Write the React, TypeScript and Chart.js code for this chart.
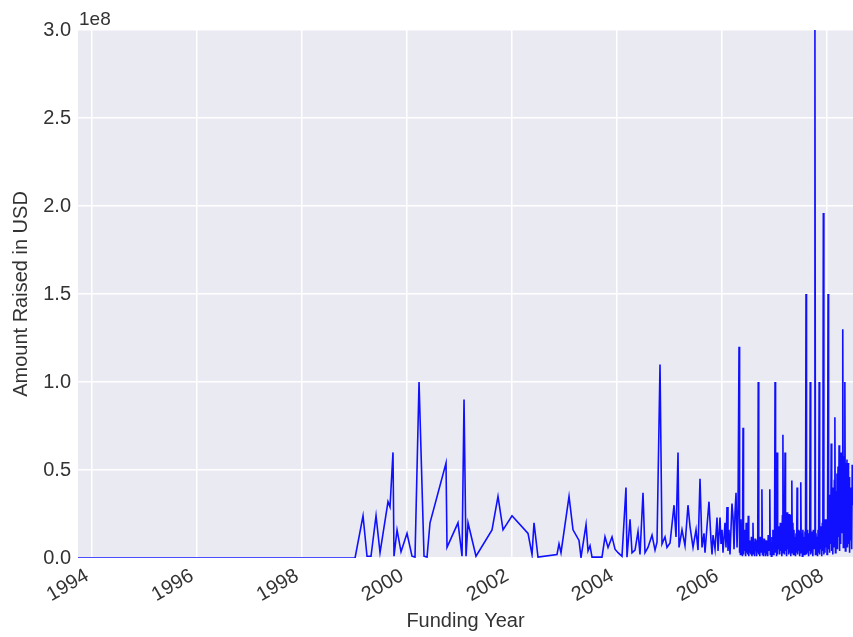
import React, { useEffect, useRef } from "react";
import { Chart, registerables } from "chart.js";

Chart.register(...registerables);

// ---- Axis settings / labels ----
const X_MIN_YEAR = 1993.733;
const X_MAX_YEAR = 2008.495;
const X_TICK_STEP = 2;
const Y_MAX_USD = 3e8;
const Y_TICK_STEP = 0.5e8;
const Y_OFFSET_LABEL = "1e8";
const X_TITLE = "Funding Year";
const Y_TITLE = "Amount Raised in USD";

// ---- Data: funding year (decimal) and amount raised (millions of USD) ----
const earlyYears = [1993.733, 1995.0, 1996.5, 1998.0, 1999.01];
const earlyAmounts = [0, 0, 0, 0, 0];

const boomYears = [
  1999.162, 1999.238, 1999.314, 1999.41, 1999.486, 1999.638, 1999.676, 1999.733, 1999.752, 1999.81,
  1999.886, 2000.0, 2000.095, 2000.152, 2000.229, 2000.324, 2000.381, 2000.438, 2000.743, 2000.762,
  2000.971, 2001.048, 2001.086, 2001.124, 2001.162, 2001.314, 2001.619, 2001.733, 2001.829, 2002.0,
  2002.305, 2002.381, 2002.419, 2002.495, 2002.857, 2002.895, 2002.933, 2003.086, 2003.162, 2003.276,
  2003.314, 2003.41, 2003.448, 2003.486, 2003.524,
];
const boomAmounts = [
  24, 1, 1, 24, 3, 32, 29, 60, 1, 16,
  3.5, 14, 1, 0.5, 100, 1, 0.5, 20, 54, 6,
  20, 1, 90, 1, 20, 1, 16, 35, 16, 24,
  14, 2, 20, 0.5, 2, 8, 3, 35, 16, 10,
  0.3, 19, 4, 7, 0.5,
];

const midYears = [
  2003.714, 2003.771, 2003.829, 2003.905, 2003.962, 2004.019, 2004.095, 2004.171, 2004.19, 2004.248,
  2004.286, 2004.343, 2004.4, 2004.438, 2004.495, 2004.533, 2004.59, 2004.667, 2004.724, 2004.762,
  2004.819, 2004.857, 2004.914, 2004.952, 2005.01, 2005.086, 2005.124, 2005.162, 2005.181, 2005.238,
  2005.295, 2005.352, 2005.39, 2005.448, 2005.505, 2005.543, 2005.581, 2005.619, 2005.657, 2005.676,
  2005.714, 2005.752, 2005.79, 2005.81, 2005.829, 2005.867, 2005.905, 2005.924, 2005.962, 2005.981,
  2006.0, 2006.019, 2006.057, 2006.076, 2006.095, 2006.114, 2006.133, 2006.152, 2006.19, 2006.21,
  2006.229, 2006.248, 2006.267, 2006.286, 2006.305, 2006.324,
];
const midAmounts = [
  0.5, 12, 6, 12, 5, 3, 1, 40, 0.5, 22,
  3, 4.5, 15, 2, 37, 3, 6, 13, 4.5, 9,
  110, 8, 12, 6, 8.5, 30, 12, 60, 6, 16,
  7, 30, 18, 6, 16, 4.5, 45, 6, 14, 3,
  18, 32, 10, 2, 13, 5, 23, 4, 23, 8,
  16, 3, 20, 6, 29, 4, 16, 2, 31, 23,
  5, 26, 37, 6, 28, 120,
];

const denseYears = [
  2006.33, 2006.34, 2006.35, 2006.36, 2006.37, 2006.38, 2006.39,
  2006.4, 2006.41, 2006.42, 2006.43, 2006.44, 2006.45, 2006.46, 2006.47, 2006.48, 2006.49,
  2006.5, 2006.51, 2006.52, 2006.53, 2006.54, 2006.55, 2006.56, 2006.57, 2006.58, 2006.59,
  2006.6, 2006.61, 2006.62, 2006.63, 2006.64, 2006.65, 2006.66, 2006.67, 2006.68, 2006.69,
  2006.7, 2006.71, 2006.72, 2006.73, 2006.74, 2006.75, 2006.76, 2006.77, 2006.78, 2006.79,
  2006.8, 2006.81, 2006.82, 2006.83, 2006.84, 2006.85, 2006.86, 2006.87, 2006.88, 2006.89,
  2006.9, 2006.91, 2006.92, 2006.93, 2006.94, 2006.95, 2006.96, 2006.97, 2006.98, 2006.99,
  2007.0, 2007.01, 2007.02, 2007.03, 2007.04, 2007.05, 2007.06, 2007.07, 2007.08, 2007.09,
  2007.1, 2007.11, 2007.12, 2007.13, 2007.14, 2007.15, 2007.16, 2007.17, 2007.18, 2007.19,
  2007.2, 2007.21, 2007.22, 2007.23, 2007.24, 2007.25, 2007.26, 2007.27, 2007.28, 2007.29,
  2007.3, 2007.31, 2007.32, 2007.33, 2007.34, 2007.35, 2007.36, 2007.37, 2007.38, 2007.39,
  2007.4, 2007.41, 2007.42, 2007.43, 2007.44, 2007.45, 2007.46, 2007.47, 2007.48, 2007.49,
  2007.5, 2007.51, 2007.52, 2007.53, 2007.54, 2007.55, 2007.56, 2007.57, 2007.58, 2007.59,
  2007.6, 2007.61, 2007.62, 2007.63, 2007.64, 2007.65, 2007.66, 2007.67, 2007.68, 2007.69,
  2007.7, 2007.71, 2007.72, 2007.73, 2007.74, 2007.75, 2007.76, 2007.77, 2007.78, 2007.79,
  2007.8, 2007.81, 2007.82, 2007.83, 2007.84, 2007.85, 2007.86, 2007.87, 2007.88, 2007.89,
  2007.9, 2007.91, 2007.92, 2007.93, 2007.94, 2007.95, 2007.96, 2007.97, 2007.98, 2007.99,
  2008.0, 2008.01, 2008.02, 2008.03, 2008.04, 2008.05, 2008.06, 2008.07, 2008.08, 2008.09,
  2008.1, 2008.11, 2008.12, 2008.13, 2008.14, 2008.15, 2008.16, 2008.17, 2008.18, 2008.19,
  2008.2, 2008.21, 2008.22, 2008.23, 2008.24, 2008.25, 2008.26, 2008.27, 2008.28, 2008.29,
  2008.3, 2008.31, 2008.32, 2008.33, 2008.34, 2008.35, 2008.36, 2008.37, 2008.38, 2008.39,
  2008.4, 2008.41, 2008.42, 2008.43, 2008.44, 2008.45, 2008.46, 2008.47, 2008.48, 2008.49,
];
const denseAmounts = [
  3, 18, 2, 22, 5, 14, 1,
  74, 2, 16, 4, 12, 1, 20, 3, 9, 2,
  24, 1, 10, 3, 8, 2, 12, 1, 6, 20,
  2, 9, 1, 11, 4, 7, 1, 10, 3, 100,
  2, 8, 1, 12, 3, 6, 39, 2, 9, 1,
  11, 3, 7, 1, 10, 2, 8, 1, 13, 4,
  6, 39, 2, 9, 1, 12, 3, 16, 2, 10,
  4, 100, 3, 14, 1, 60, 2, 18, 5, 12,
  2, 20, 4, 15, 1, 24, 70, 3, 18, 2,
  60, 4, 22, 1, 26, 5, 14, 2, 25, 3,
  18, 1, 24, 44, 3, 20, 2, 16, 5, 12,
  1, 14, 3, 40, 2, 16, 4, 10, 1, 15,
  43, 3, 14, 1, 16, 5, 12, 2, 15, 4,
  150, 2, 16, 3, 12, 1, 14, 4, 100, 2,
  15, 3, 12, 1, 16, 5, 10, 300, 2, 14,
  4, 12, 1, 16, 3, 100, 2, 18, 5, 14,
  1, 20, 4, 196, 2, 16, 3, 22, 6, 18,
  2, 24, 150, 5, 30, 3, 36, 8, 65, 4,
  40, 2, 34, 6, 44, 80, 3, 38, 10, 48,
  5, 52, 12, 64, 4, 56, 8, 60, 14, 50,
  130, 6, 58, 10, 100, 4, 54, 12, 56, 6,
  54, 8, 46, 3, 40, 10, 36, 5, 53, 30,
];

const FONT_FAMILY = '"Liberation Sans", Arial, Helvetica, sans-serif';
const TEXT_COLOR = "#333333";
const PLOT_BG = "#EAEAF2";
const LINE_COLOR = "#1010ff";

const allYears = [...earlyYears, ...boomYears, ...midYears, ...denseYears];
const allAmounts = [...earlyAmounts, ...boomAmounts, ...midAmounts, ...denseAmounts];

const decorPlugin = {
  id: "decor",
  beforeDraw(chart: any) {
    const { ctx, chartArea: a } = chart;
    ctx.save();
    ctx.fillStyle = PLOT_BG;
    ctx.fillRect(a.left, a.top, a.right - a.left, a.bottom - a.top);
    ctx.restore();
  },
  afterDraw(chart: any) {
    const { ctx, chartArea: a } = chart;
    ctx.save();
    ctx.font = `19px ${FONT_FAMILY}`;
    ctx.fillStyle = TEXT_COLOR;
    ctx.textAlign = "left";
    ctx.textBaseline = "alphabetic";
    ctx.fillText(Y_OFFSET_LABEL, a.left + 1, a.top - 5);
    ctx.restore();
  },
};

export default function App() {
  const ref = useRef<HTMLCanvasElement>(null);
  useEffect(() => {
    document.body.style.margin = "0";
    const points = allYears.map((x, i) => ({ x, y: allAmounts[i] * 1e6 }));
    const font = { family: FONT_FAMILY, size: 20 };
    const chart = new Chart(ref.current!, {
      type: "line",
      data: {
        datasets: [
          {
            data: points,
            borderColor: LINE_COLOR,
            borderWidth: 1.6,
            pointRadius: 0,
            tension: 0,
            fill: false,
          },
        ],
      },
      options: {
        animation: false,
        responsive: false,
        devicePixelRatio: 1,
        layout: { padding: { top: 30, left: 0, right: 0, bottom: 0 } },
        plugins: { legend: { display: false }, tooltip: { enabled: false } },
        scales: {
          x: {
            type: "linear",
            min: X_MIN_YEAR,
            max: X_MAX_YEAR,
            afterFit: (s: any) => {
              s.height = 79;
            },
            grid: { color: "#ffffff", lineWidth: 1.5, drawTicks: false },
            border: { display: false },
            ticks: {
              stepSize: X_TICK_STEP,
              includeBounds: false,
              autoSkip: false,
              minRotation: 30,
              maxRotation: 30,
              padding: 6,
              labelOffset: -5,
              color: TEXT_COLOR,
              font,
              callback: (v: any) => String(Math.round(Number(v))),
            },
            title: {
              display: true,
              text: X_TITLE,
              color: TEXT_COLOR,
              font,
              padding: { top: 0, bottom: 4 },
            },
          },
          y: {
            min: 0,
            max: Y_MAX_USD,
            afterFit: (s: any) => {
              s.width = 78;
            },
            grid: { color: "#ffffff", lineWidth: 1.5, drawTicks: false },
            border: { display: false },
            ticks: {
              stepSize: Y_TICK_STEP,
              padding: 7,
              color: TEXT_COLOR,
              font,
              callback: (v: any) => (Number(v) / 1e8).toFixed(1),
            },
            title: {
              display: true,
              text: Y_TITLE,
              color: TEXT_COLOR,
              font,
              padding: { top: 9, bottom: 0 },
            },
          },
        },
      },
      plugins: [decorPlugin],
    });
    return () => chart.destroy();
  }, []);
  return (
    <div style={{ width: 853, height: 637 }}>
      <canvas ref={ref} width={853} height={637} style={{ display: "block", width: 853, height: 637 }} />
    </div>
  );
}
